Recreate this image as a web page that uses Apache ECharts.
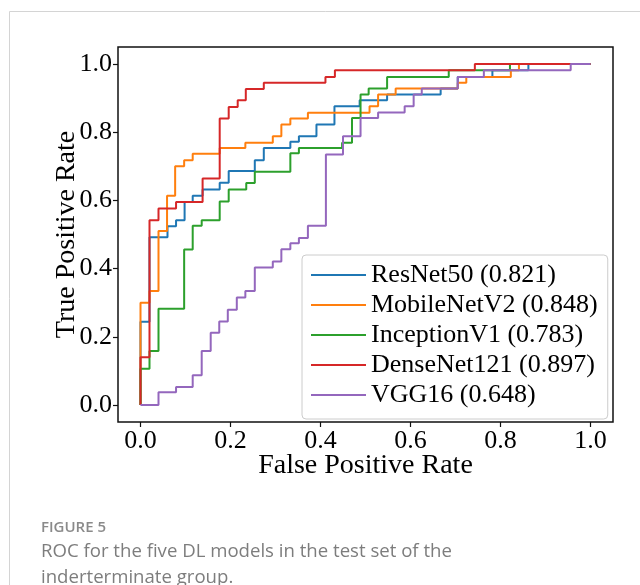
<!DOCTYPE html>
<html>
<head>
<meta charset="utf-8">
<script src="https://cdn.jsdelivr.net/npm/echarts@6/dist/echarts.min.js"></script>
<style>
html,body{margin:0;padding:0;background:#fff;}
#chart{width:640px;height:585px;}
</style>
</head>
<body>
<div id="chart"></div>
<script>
// ---- data (ROC vertices) ----
const tickValues = [0, 0.2, 0.4, 0.6, 0.8, 1.0];
const seriesNames = ['ResNet50 (0.821)', 'MobileNetV2 (0.848)', 'InceptionV1 (0.783)', 'DenseNet121 (0.897)', 'VGG16 (0.648)'];
const seriesColors = ['#1f77b4', '#ff7f0e', '#2ca02c', '#d62728', '#9467bd'];

const resnetFpr = [0,0,0.02,0.02,0.06,0.06,0.079,0.079,0.098,0.098,0.116,0.116,0.138,0.138,0.176,0.176,0.196,0.196,0.254,0.254,0.274,0.274,0.333,0.333,0.352,0.352,0.391,0.391,0.431,0.431,0.487,0.487,0.548,0.548,0.667,0.667,0.705,0.705,0.782,0.782,0.862,0.862,1];
const resnetTpr = [0,0.244,0.244,0.492,0.492,0.524,0.524,0.542,0.542,0.595,0.595,0.614,0.614,0.632,0.632,0.652,0.652,0.686,0.686,0.718,0.718,0.754,0.754,0.772,0.772,0.788,0.788,0.823,0.823,0.876,0.876,0.894,0.894,0.911,0.911,0.928,0.928,0.962,0.962,0.982,0.982,1,1];

const mobileFpr = [0,0,0.02,0.02,0.04,0.04,0.059,0.059,0.077,0.077,0.097,0.097,0.116,0.116,0.176,0.176,0.233,0.233,0.294,0.294,0.313,0.313,0.333,0.333,0.372,0.372,0.509,0.509,0.528,0.528,0.567,0.567,0.705,0.705,0.724,0.724,0.823,0.823,0.841,0.841,1];
const mobileTpr = [0,0.30,0.30,0.334,0.334,0.510,0.510,0.614,0.614,0.700,0.700,0.718,0.718,0.737,0.737,0.754,0.754,0.769,0.769,0.788,0.788,0.823,0.823,0.840,0.840,0.857,0.857,0.876,0.876,0.911,0.911,0.928,0.928,0.945,0.945,0.962,0.962,0.982,0.982,1,1];

const inceptionFpr = [0,0,0.02,0.02,0.04,0.04,0.097,0.097,0.116,0.116,0.136,0.136,0.176,0.176,0.196,0.196,0.235,0.235,0.254,0.254,0.333,0.333,0.352,0.352,0.448,0.448,0.470,0.470,0.489,0.489,0.507,0.507,0.548,0.548,0.685,0.685,0.821,0.821,1];
const inceptionTpr = [0,0.106,0.106,0.158,0.158,0.282,0.282,0.456,0.456,0.526,0.526,0.542,0.542,0.597,0.597,0.632,0.632,0.651,0.651,0.684,0.684,0.738,0.738,0.754,0.754,0.769,0.769,0.842,0.842,0.911,0.911,0.928,0.928,0.962,0.962,0.982,0.982,1,1];

const densenetFpr = [0,0,0.02,0.02,0.04,0.04,0.079,0.079,0.138,0.138,0.176,0.176,0.196,0.196,0.216,0.216,0.234,0.234,0.274,0.274,0.411,0.411,0.432,0.432,0.743,0.743,1];
const densenetTpr = [0,0.14,0.14,0.542,0.542,0.576,0.576,0.595,0.595,0.664,0.664,0.840,0.840,0.874,0.874,0.894,0.894,0.927,0.927,0.945,0.945,0.962,0.962,0.982,0.982,1,1];

const vggFpr = [0,0.04,0.04,0.079,0.079,0.116,0.116,0.136,0.136,0.156,0.156,0.175,0.175,0.194,0.194,0.214,0.214,0.233,0.233,0.254,0.254,0.294,0.294,0.313,0.313,0.333,0.333,0.352,0.352,0.372,0.372,0.412,0.412,0.450,0.450,0.489,0.489,0.528,0.528,0.587,0.587,0.607,0.607,0.625,0.625,0.705,0.705,0.763,0.763,0.956,0.956,1];
const vggTpr = [0,0,0.037,0.037,0.053,0.053,0.087,0.087,0.158,0.158,0.212,0.212,0.245,0.245,0.279,0.279,0.315,0.315,0.334,0.334,0.403,0.403,0.421,0.421,0.457,0.457,0.474,0.474,0.490,0.490,0.526,0.526,0.735,0.735,0.788,0.788,0.842,0.842,0.858,0.858,0.876,0.876,0.911,0.911,0.928,0.928,0.962,0.962,0.982,0.982,1,1];

const allFpr = [resnetFpr, mobileFpr, inceptionFpr, densenetFpr, vggFpr];
const allTpr = [resnetTpr, mobileTpr, inceptionTpr, densenetTpr, vggTpr];

const serif = '"Liberation Serif", "DejaVu Serif", serif';
const chart = echarts.init(document.getElementById('chart'), null, {renderer: 'canvas'});

const series = seriesNames.map((name, k) => ({
  name: name,
  type: 'line',
  data: allFpr[k].map((x, i) => [x, allTpr[k][i]]),
  showSymbol: false,
  symbol: 'none',
  lineStyle: {width: 2, color: seriesColors[k]},
  itemStyle: {color: seriesColors[k]},
  emphasis: {disabled: true},
  z: 2 + k
}));

chart.setOption({
  animation: false,
  backgroundColor: '#fff',
  grid: {left: 118, right: 27, top: 47, bottom: 163, show: true, borderColor: '#111', borderWidth: 1.5, backgroundColor: 'transparent'},
  xAxis: {
    type: 'value', min: -0.05, max: 1.05,
    name: 'False Positive Rate', nameLocation: 'middle', nameGap: 30, nameMoveOverlap: false,
    nameTextStyle: {fontFamily: serif, fontSize: 28, color: '#000'},
    axisLine: {show: false, onZero: false},
    splitLine: {show: false},
    axisTick: {show: true, customValues: tickValues, length: 5, inside: false, lineStyle: {color: '#111', width: 1.2}},
    axisLabel: {customValues: tickValues, formatter: v => v.toFixed(1), fontFamily: serif, fontSize: 26, color: '#000', margin: 6}
  },
  yAxis: {
    type: 'value', min: -0.05, max: 1.05,
    name: 'True Positive Rate', nameLocation: 'middle', nameGap: 37, nameMoveOverlap: false,
    nameTextStyle: {fontFamily: serif, fontSize: 28, color: '#000'},
    axisLine: {show: false, onZero: false},
    splitLine: {show: false},
    axisTick: {show: true, customValues: tickValues, length: 5, inside: false, lineStyle: {color: '#111', width: 1.2}},
    axisLabel: {customValues: tickValues, formatter: v => v.toFixed(1), fontFamily: serif, fontSize: 26, color: '#000', margin: 6}
  },
  legend: {
    data: seriesNames,
    orient: 'vertical',
    left: 302, top: 255,
    icon: 'rect', itemWidth: 55, itemHeight: 2, itemGap: 2,
    padding: [6, 10, 10, 9],
    backgroundColor: 'rgba(255,255,255,0.8)',
    borderColor: '#cccccc', borderWidth: 1, borderRadius: 4,
    textStyle: {fontFamily: serif, fontSize: 26, color: '#000', lineHeight: 28},
    selectedMode: false
  },
  graphic: [
    {type: 'rect', shape: {x: 9.5, y: 11.5, width: 700, height: 700}, style: {fill: 'none', stroke: '#d4d4d4', lineWidth: 1}, silent: true, z: -10},
    {type: 'text', left: 41, top: 520, style: {text: 'FIGURE 5', font: '600 15px "Open Sans", sans-serif', fill: '#8a8a8a'}},
    {type: 'text', left: 41, top: 542, style: {text: 'ROC for the five DL models in the test set of the', font: '18.6px "Open Sans", sans-serif', fill: '#7d7d7d'}},
    {type: 'text', left: 41, top: 568, style: {text: 'inderterminate group.', font: '18.6px "Open Sans", sans-serif', fill: '#7d7d7d'}}
  ],
  series: series
});
</script>
</body>
</html>
